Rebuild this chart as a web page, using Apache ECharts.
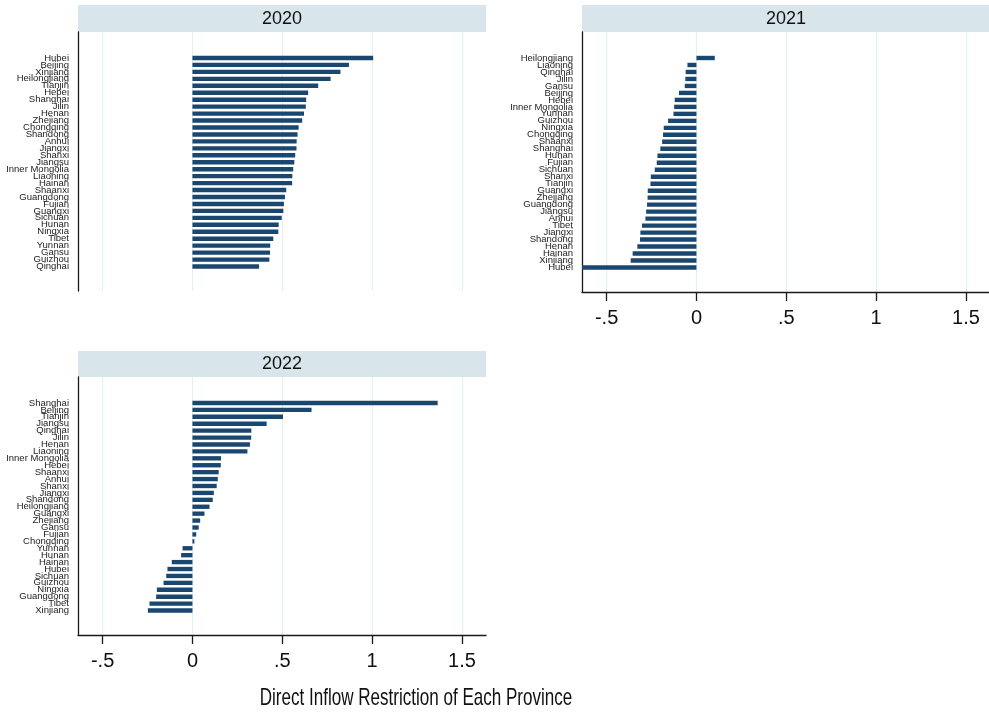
<!DOCTYPE html>
<html>
<head>
<meta charset="utf-8">
<script src="https://cdn.jsdelivr.net/npm/echarts@6/dist/echarts.min.js"></script>
<style>
html,body{margin:0;padding:0;background:#fff;}
#chart{width:989px;height:716px;}
</style>
</head>
<body>
<div id="chart"></div>
<script>
// ---- Data (top-to-bottom order in each panel) ----
const years = ['2020', '2021', '2022'];

const provinces2020 = ['Hubei','Beijing','Xinjiang','Heilongjiang','Tianjin','Hebei','Shanghai','Jilin','Henan','Zhejiang','Chongqing','Shandong','Anhui','Jiangxi','Shanxi','Jiangsu','Inner Mongolia','Liaoning','Hainan','Shaanxi','Guangdong','Fujian','Guangxi','Sichuan','Hunan','Ningxia','Tibet','Yunnan','Gansu','Guizhou','Qinghai'];
const values2020 = [1.006,0.871,0.824,0.769,0.700,0.644,0.633,0.631,0.621,0.611,0.591,0.585,0.580,0.579,0.572,0.567,0.561,0.556,0.555,0.522,0.515,0.509,0.506,0.497,0.480,0.478,0.450,0.433,0.432,0.428,0.371];

const provinces2021 = ['Heilongjiang','Liaoning','Qinghai','Jilin','Gansu','Beijing','Hebei','Inner Mongolia','Yunnan','Guizhou','Ningxia','Chongqing','Shaanxi','Shanghai','Hunan','Fujian','Sichuan','Shanxi','Tianjin','Guangxi','Zhejiang','Guangdong','Jiangsu','Anhui','Tibet','Jiangxi','Shandong','Henan','Hainan','Xinjiang','Hubei'];
const values2021 = [0.102,-0.050,-0.060,-0.062,-0.065,-0.097,-0.121,-0.124,-0.128,-0.158,-0.182,-0.186,-0.191,-0.201,-0.217,-0.221,-0.232,-0.254,-0.256,-0.271,-0.272,-0.275,-0.280,-0.284,-0.303,-0.312,-0.314,-0.329,-0.355,-0.366,-0.640];

const provinces2022 = ['Shanghai','Beijing','Tianjin','Jiangsu','Qinghai','Jilin','Henan','Liaoning','Inner Mongolia','Hebei','Shaanxi','Anhui','Shanxi','Jiangxi','Shandong','Heilongjiang','Guangxi','Zhejiang','Gansu','Fujian','Chongqing','Yunnan','Hunan','Hainan','Hubei','Sichuan','Guizhou','Ningxia','Guangdong','Tibet','Xinjiang'];
const values2022 = [1.365,0.663,0.504,0.413,0.328,0.327,0.320,0.306,0.159,0.158,0.146,0.141,0.135,0.119,0.113,0.095,0.067,0.043,0.035,0.021,0.011,-0.055,-0.063,-0.115,-0.139,-0.146,-0.161,-0.198,-0.202,-0.239,-0.248];

const tickValues = [-0.5, 0, 0.5, 1, 1.5];
const tickLabels = ['-.5', '0', '.5', '1', '1.5'];
const xTitle = 'Direct Inflow Restriction of Each Province';

// ---- Layout / style ----
const X_MIN = -0.637, X_MAX = 1.634;
const BAR = '#1a476f', HEADER = '#d8e5eb', GRIDLINE = '#e4eff1', AXIS = '#1a1a1a';
const FONT = "'Liberation Sans', Arial, sans-serif";

const panels = [
  {year: years[0], cats: provinces2020, vals: values2020, left: 78,  top: 32,  width: 408, height: 259, headTop: 5,   headH: 27, xAxisShown: false},
  {year: years[1], cats: provinces2021, vals: values2021, left: 582, top: 32,  width: 408, height: 260, headTop: 5,   headH: 27, xAxisShown: true},
  {year: years[2], cats: provinces2022, vals: values2022, left: 78,  top: 377, width: 408, height: 258, headTop: 351, headH: 26, xAxisShown: true}
];
const PAD_TOP = 22.5, PAD_BOTTOM = 21;

const grid = [], xAxis = [], yAxis = [], series = [], graphic = [];
const labelFmt = v => { const i = tickValues.indexOf(+v); return i >= 0 ? tickLabels[i] : ''; };

panels.forEach((p, k) => {
  const fi = grid.length;
  // frame grid (axis lines, grid lines, tick labels)
  grid.push({left: p.left, top: p.top, width: p.width, height: p.height, outerBoundsMode: 'none', containLabel: false});
  xAxis.push({
    gridIndex: fi, type: 'value', min: X_MIN, max: X_MAX,
    axisLine: {show: p.xAxisShown, onZero: false, lineStyle: {color: AXIS, width: 1.3}},
    axisTick: {show: p.xAxisShown, customValues: tickValues, length: 9, lineStyle: {color: AXIS, width: 1.3}},
    axisLabel: {show: p.xAxisShown, customValues: tickValues, formatter: labelFmt, fontSize: 20, fontFamily: FONT, color: '#111', margin: 16},
    splitLine: {show: true, customValues: tickValues, lineStyle: {color: GRIDLINE, width: 1.2}}
  });
  yAxis.push({
    gridIndex: fi, type: 'value', min: 0, max: 1,
    axisLine: {show: true, onZero: false, lineStyle: {color: AXIS, width: 1.3}},
    axisTick: {show: false}, axisLabel: {show: false}, splitLine: {show: false}
  });
  // data grid (bars and category labels)
  const di = grid.length;
  grid.push({left: p.left, top: p.top + PAD_TOP, width: p.width, height: p.height - PAD_TOP - PAD_BOTTOM, outerBoundsMode: 'none', containLabel: false});
  xAxis.push({gridIndex: di, type: 'value', min: X_MIN, max: X_MAX, show: false, splitLine: {show: false}});
  yAxis.push({
    gridIndex: di, type: 'category', data: p.cats, inverse: true,
    axisLine: {show: false}, axisTick: {show: false}, splitLine: {show: false},
    axisLabel: {interval: 0, fontSize: 9.5, fontFamily: FONT, color: '#222', margin: 9, lineHeight: 9}
  });
  series.push({
    type: 'bar', xAxisIndex: di, yAxisIndex: di, data: p.vals,
    barWidth: '63%', itemStyle: {color: BAR}, silent: true, animation: false, clip: true
  });
  // panel header
  graphic.push({
    type: 'rect', left: p.left, top: p.headTop, silent: true,
    shape: {width: p.width, height: p.headH}, style: {fill: HEADER}
  });
  graphic.push({
    type: 'text', x: p.left + p.width / 2, y: p.headTop + p.headH / 2 + 0.5, silent: true,
    style: {text: p.year, fontSize: 18, fontFamily: FONT, fill: '#111', align: 'center', verticalAlign: 'middle'}
  });
});

// condensed axis title (reference uses a narrow face)
graphic.push({
  type: 'text', x: 416, y: 698, scaleX: 0.71, silent: true,
  style: {text: xTitle, fontSize: 24, fontFamily: FONT, fill: '#111', align: 'center', verticalAlign: 'middle'}
});

const chart = echarts.init(document.getElementById('chart'), null, {renderer: 'canvas'});
chart.setOption({
  backgroundColor: '#ffffff',
  animation: false,
  grid, xAxis, yAxis, series, graphic
});
</script>
</body>
</html>
